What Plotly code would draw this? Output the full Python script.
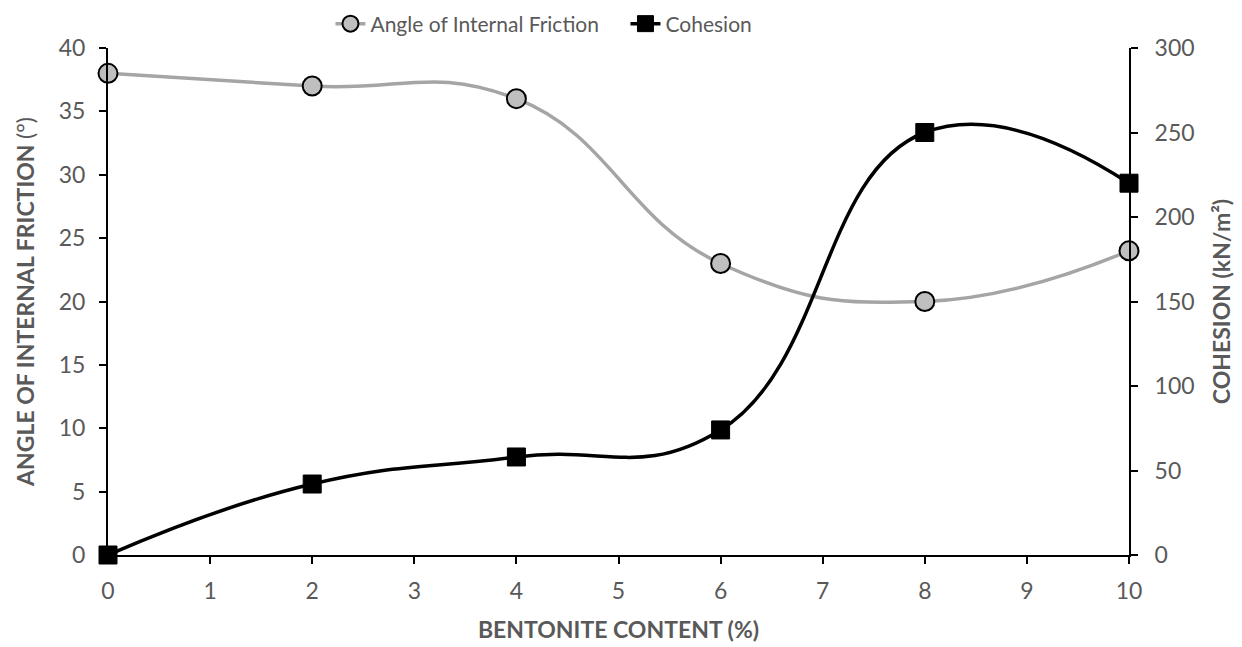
import plotly.graph_objects as go

bentonite = [0, 2, 4, 6, 8, 10]
angle = [38, 37, 36, 23, 20, 24]
cohesion = [0, 42, 58, 74, 250, 220]
x_ticks = list(range(0, 11))
left_ticks = [0, 5, 10, 15, 20, 25, 30, 35, 40]
right_ticks = [0, 50, 100, 150, 200, 250, 300]

font_fam = "Lato, 'Open Sans', sans-serif"
gray_txt = "#595959"
tick_size = 23
title_size = 23

fig = go.Figure()
fig.add_trace(go.Scatter(
    x=bentonite, y=angle, name="Angle of Internal Friction\u00a0\u00a0\u00a0\u00a0",
    mode="lines+markers",
    line=dict(color="#A5A5A5", width=3.5, shape="spline", smoothing=1.3),
    marker=dict(symbol="circle", size=19, color="#BFBFBF", line=dict(color="black", width=2)),
    cliponaxis=False, yaxis="y"))
fig.add_trace(go.Scatter(
    x=bentonite, y=cohesion, name="Cohesion",
    mode="lines+markers",
    line=dict(color="black", width=3.5, shape="spline", smoothing=1.3),
    marker=dict(symbol="square", size=18, color="black", line=dict(color="black", width=1)),
    cliponaxis=False, yaxis="y2"))

axis_common = dict(showgrid=False, zeroline=False, showline=True, linecolor="black", linewidth=2,
                   ticks="outside", ticklen=7, tickcolor="black", tickwidth=2,
                   tickfont=dict(size=tick_size, color=gray_txt), automargin=False)

fig.update_layout(
    width=1234, height=639,
    margin=dict(l=100, r=113, t=40, b=92),
    paper_bgcolor="white", plot_bgcolor="white",
    font=dict(family=font_fam, color=gray_txt, size=tick_size),
    showlegend=True,
    legend=dict(orientation="h", x=0.427, xanchor="center", yref="container", y=0.975, yanchor="middle",
                font=dict(size=21, color=gray_txt), traceorder="normal",
                bgcolor="rgba(0,0,0,0)"),
    xaxis=dict(range=[0, 10], tickvals=x_ticks, ticklabelstandoff=7, **axis_common,
               title=dict(text="<b>BENTONITE CONTENT (%)</b>", font=dict(size=title_size, color=gray_txt), standoff=19)),
    yaxis=dict(range=[0, 40], tickvals=left_ticks, ticklabelstandoff=9, **axis_common,
               title=dict(text="<b>ANGLE OF INTERNAL FRICTION </b>(°)", font=dict(size=title_size, color=gray_txt), standoff=18)),
    yaxis2=dict(range=[0, 300], tickvals=right_ticks, overlaying="y", side="right", ticklabelstandoff=12, **axis_common,
                title=dict(text="<b>COHESION (kN/m²)</b>", font=dict(size=title_size, color=gray_txt), standoff=20)),
)

fig.write_html("out.html")
